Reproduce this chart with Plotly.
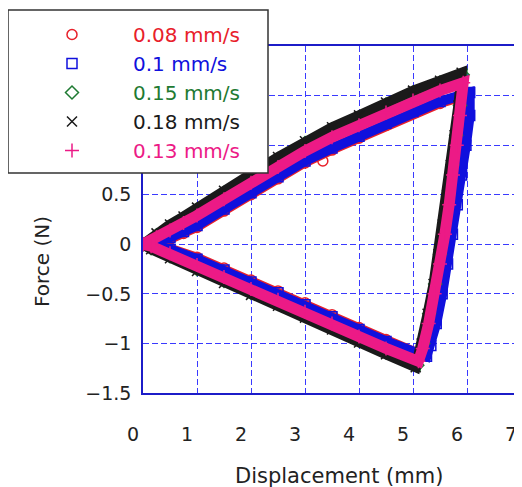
import plotly.graph_objects as go

# ---------------- data ----------------
names = ["0.08 mm/s", "0.1 mm/s", "0.15 mm/s", "0.18 mm/s", "0.13 mm/s"]

red_x = [0, 0.25, 0.5, 0.75, 1.0, 1.5, 2.0, 2.5, 3.0, 3.5, 4.0, 4.5, 5.0, 5.5, 6.0,
         6.0, 5.93, 5.85, 5.77, 5.68, 5.59, 5.49, 5.38, 5.28, 5.2,
         4.5, 4.0, 3.5, 3.0, 2.5, 2.0, 1.5, 1.0, 0.5, 0.15, 0]
red_y = [0, 0.02, 0.05, 0.11, 0.17, 0.335, 0.50, 0.66, 0.82, 0.95, 1.07, 1.20, 1.32, 1.42, 1.50,
         1.30, 1.00, 0.70, 0.40, 0.10, -0.20, -0.50, -0.80, -1.02, -1.12,
         -0.96, -0.84, -0.71, -0.59, -0.47, -0.36, -0.24, -0.13, -0.04, 0.0, 0]
red_out_x = [3.33]
red_out_y = [0.84]

blue_x = [0, 0.25, 0.5, 0.75, 1.0, 1.5, 2.0, 2.5, 3.0, 3.5, 4.0, 4.5, 5.0, 5.5, 6.05,
          6.05, 5.98, 5.90, 5.82, 5.73, 5.64, 5.54, 5.43, 5.33, 5.25,
          4.5, 4.0, 3.5, 3.0, 2.5, 2.0, 1.5, 1.0, 0.5, 0.15, 0]
blue_y = [0, 0.03, 0.07, 0.13, 0.19, 0.355, 0.52, 0.68, 0.84, 0.97, 1.09, 1.22, 1.34, 1.44, 1.53,
          1.30, 1.00, 0.70, 0.40, 0.10, -0.20, -0.50, -0.80, -1.02, -1.13,
          -0.98, -0.86, -0.73, -0.61, -0.49, -0.38, -0.26, -0.15, -0.05, 0.0, 0]

green_x = [0, 0.25, 0.5, 0.75, 1.0, 1.5, 2.0, 2.5, 3.0, 3.5, 4.0, 4.5, 5.0, 5.5, 5.92,
           5.87, 5.80, 5.73, 5.66, 5.58, 5.50, 5.41, 5.30, 5.19, 5.08,
           4.5, 4.0, 3.5, 3.0, 2.5, 2.0, 1.5, 1.0, 0.5, 0.15, 0]
green_y = [0, 0.09, 0.18, 0.26, 0.35, 0.52, 0.69, 0.86, 1.02, 1.16, 1.28, 1.41, 1.53, 1.63, 1.71,
           1.40, 1.10, 0.80, 0.50, 0.20, -0.10, -0.40, -0.70, -1.00, -1.22,
           -1.09, -0.97, -0.84, -0.72, -0.60, -0.49, -0.37, -0.25, -0.12, -0.04, 0]

black_x = [0, 0.25, 0.5, 0.75, 1.0, 1.5, 2.0, 2.5, 3.0, 3.5, 4.0, 4.5, 5.0, 5.5, 5.9,
           5.84, 5.77, 5.70, 5.63, 5.55, 5.47, 5.38, 5.27, 5.16, 5.05,
           4.5, 4.0, 3.5, 3.0, 2.5, 2.0, 1.5, 1.0, 0.5, 0.15, 0]
black_y = [0, 0.11, 0.20, 0.28, 0.37, 0.54, 0.71, 0.88, 1.04, 1.18, 1.30, 1.43, 1.55, 1.65, 1.73,
           1.40, 1.10, 0.80, 0.50, 0.20, -0.10, -0.40, -0.70, -1.00, -1.24,
           -1.11, -0.99, -0.86, -0.74, -0.62, -0.51, -0.39, -0.27, -0.14, -0.05, 0]

pink_x = [0, 0.25, 0.5, 0.75, 1.0, 1.5, 2.0, 2.5, 3.0, 3.5, 4.0, 4.5, 5.0, 5.5, 5.93,
          5.87, 5.81, 5.74, 5.67, 5.59, 5.50, 5.40, 5.29, 5.18, 5.10,
          4.5, 4.0, 3.5, 3.0, 2.5, 2.0, 1.5, 1.0, 0.5, 0.15, 0]
pink_y = [0, 0.07, 0.14, 0.215, 0.29, 0.455, 0.62, 0.78, 0.94, 1.08, 1.20, 1.33, 1.45, 1.55, 1.63,
          1.30, 1.00, 0.70, 0.40, 0.10, -0.20, -0.50, -0.80, -1.05, -1.18,
          -1.05, -0.93, -0.80, -0.68, -0.56, -0.45, -0.33, -0.21, -0.09, -0.02, 0]

x_ticks = [0, 1, 2, 3, 4, 5, 6, 7]
y_ticks = [-1.5, -1, -0.5, 0, 0.5, 1, 1.5, 2]
y_tick_text = ["\u22121.5", "\u22121", "\u22120.5", "0", "0.5", "", "", ""]

# ---------------- styling ----------------
series = [
    (red_x, red_y, "#e8202a", "circle-open", 9),
    (blue_x, blue_y, "#1010dd", "square-open", 10),
    (green_x, green_y, "#1e7a32", "diamond-open", 9),
    (black_x, black_y, "#1a1a1a", "x-thin-open", 10),
    (pink_x, pink_y, "#ec1a86", "cross-thin-open", 11),
]

FONT = "DejaVu Sans"
# The page body has an 8px margin, so the figure is sized 8px smaller.
W, H = 514, 479
L, R, T, B = 135, 1, 38, 94
PW, PH = W - L - R, H - T - B


def px(X):  # reference-image x pixel -> paper x
    return (X - 8 - L) / PW


def py(Y):  # reference-image y pixel -> paper y
    return (H - B - (Y - 8)) / PH


fig = go.Figure()
for (xs, ys, col, sym, lw), nm in zip(series, names):
    fig.add_trace(go.Scatter(x=xs, y=ys, mode="lines", showlegend=False,
                             line=dict(color=col, width=lw), hoverinfo="skip"))
    if nm == "0.08 mm/s":
        mx, my = xs + red_out_x, ys + red_out_y
    else:
        mx, my = xs, ys
    fig.add_trace(go.Scatter(
        x=mx, y=my, mode="markers",
        name=f'<span style="color:{col}">{nm}</span>',
        marker=dict(symbol=sym, size=10, color=col, line=dict(color=col, width=1.5)),
    ))

axis_common = dict(
    showgrid=True, gridcolor="#3a3aff", griddash="6px,3px", gridwidth=1,
    showline=True, mirror=True, linecolor="#1c1cc8", linewidth=1.5,
    zeroline=False, ticks="",
    tickfont=dict(family=FONT, size=19, color="#222222"),
)
fig.update_xaxes(range=[0, 7], tickvals=x_ticks, ticklabelshift=-10,
                 ticklabelstandoff=23, **axis_common)
fig.update_yaxes(range=[-1.5, 2], tickvals=y_ticks, ticktext=y_tick_text,
                 ticklabelstandoff=6, **axis_common)

fig.add_annotation(text="Displacement (mm)", xref="paper", yref="paper",
                   x=px(339), y=py(476),
                   xanchor="center", yanchor="middle", showarrow=False,
                   font=dict(family=FONT, size=21, color="#222222"))
fig.add_annotation(text="Force (N)", xref="paper", yref="paper",
                   x=px(42), y=py(262), textangle=-90,
                   xanchor="center", yanchor="middle", showarrow=False,
                   font=dict(family=FONT, size=20, color="#222222"))

# legend box
fig.add_shape(type="rect", xref="paper", yref="paper", layer="above",
              x0=px(8), x1=px(268), y0=py(173), y1=py(10),
              fillcolor="white", line=dict(color="#333333", width=1.5))

fig.update_layout(
    width=W, height=H,
    margin=dict(l=L, r=R, t=T, b=B, autoexpand=False),
    paper_bgcolor="white", plot_bgcolor="white",
    font=dict(family=FONT, size=20, color="#222222"),
    legend=dict(xref="paper", yref="paper",
                x=px(11), y=py(15), xanchor="left", yanchor="top",
                bgcolor="rgba(0,0,0,0)", borderwidth=0,
                itemwidth=112, font=dict(family=FONT, size=20)),
)

fig.write_html("out.html")
